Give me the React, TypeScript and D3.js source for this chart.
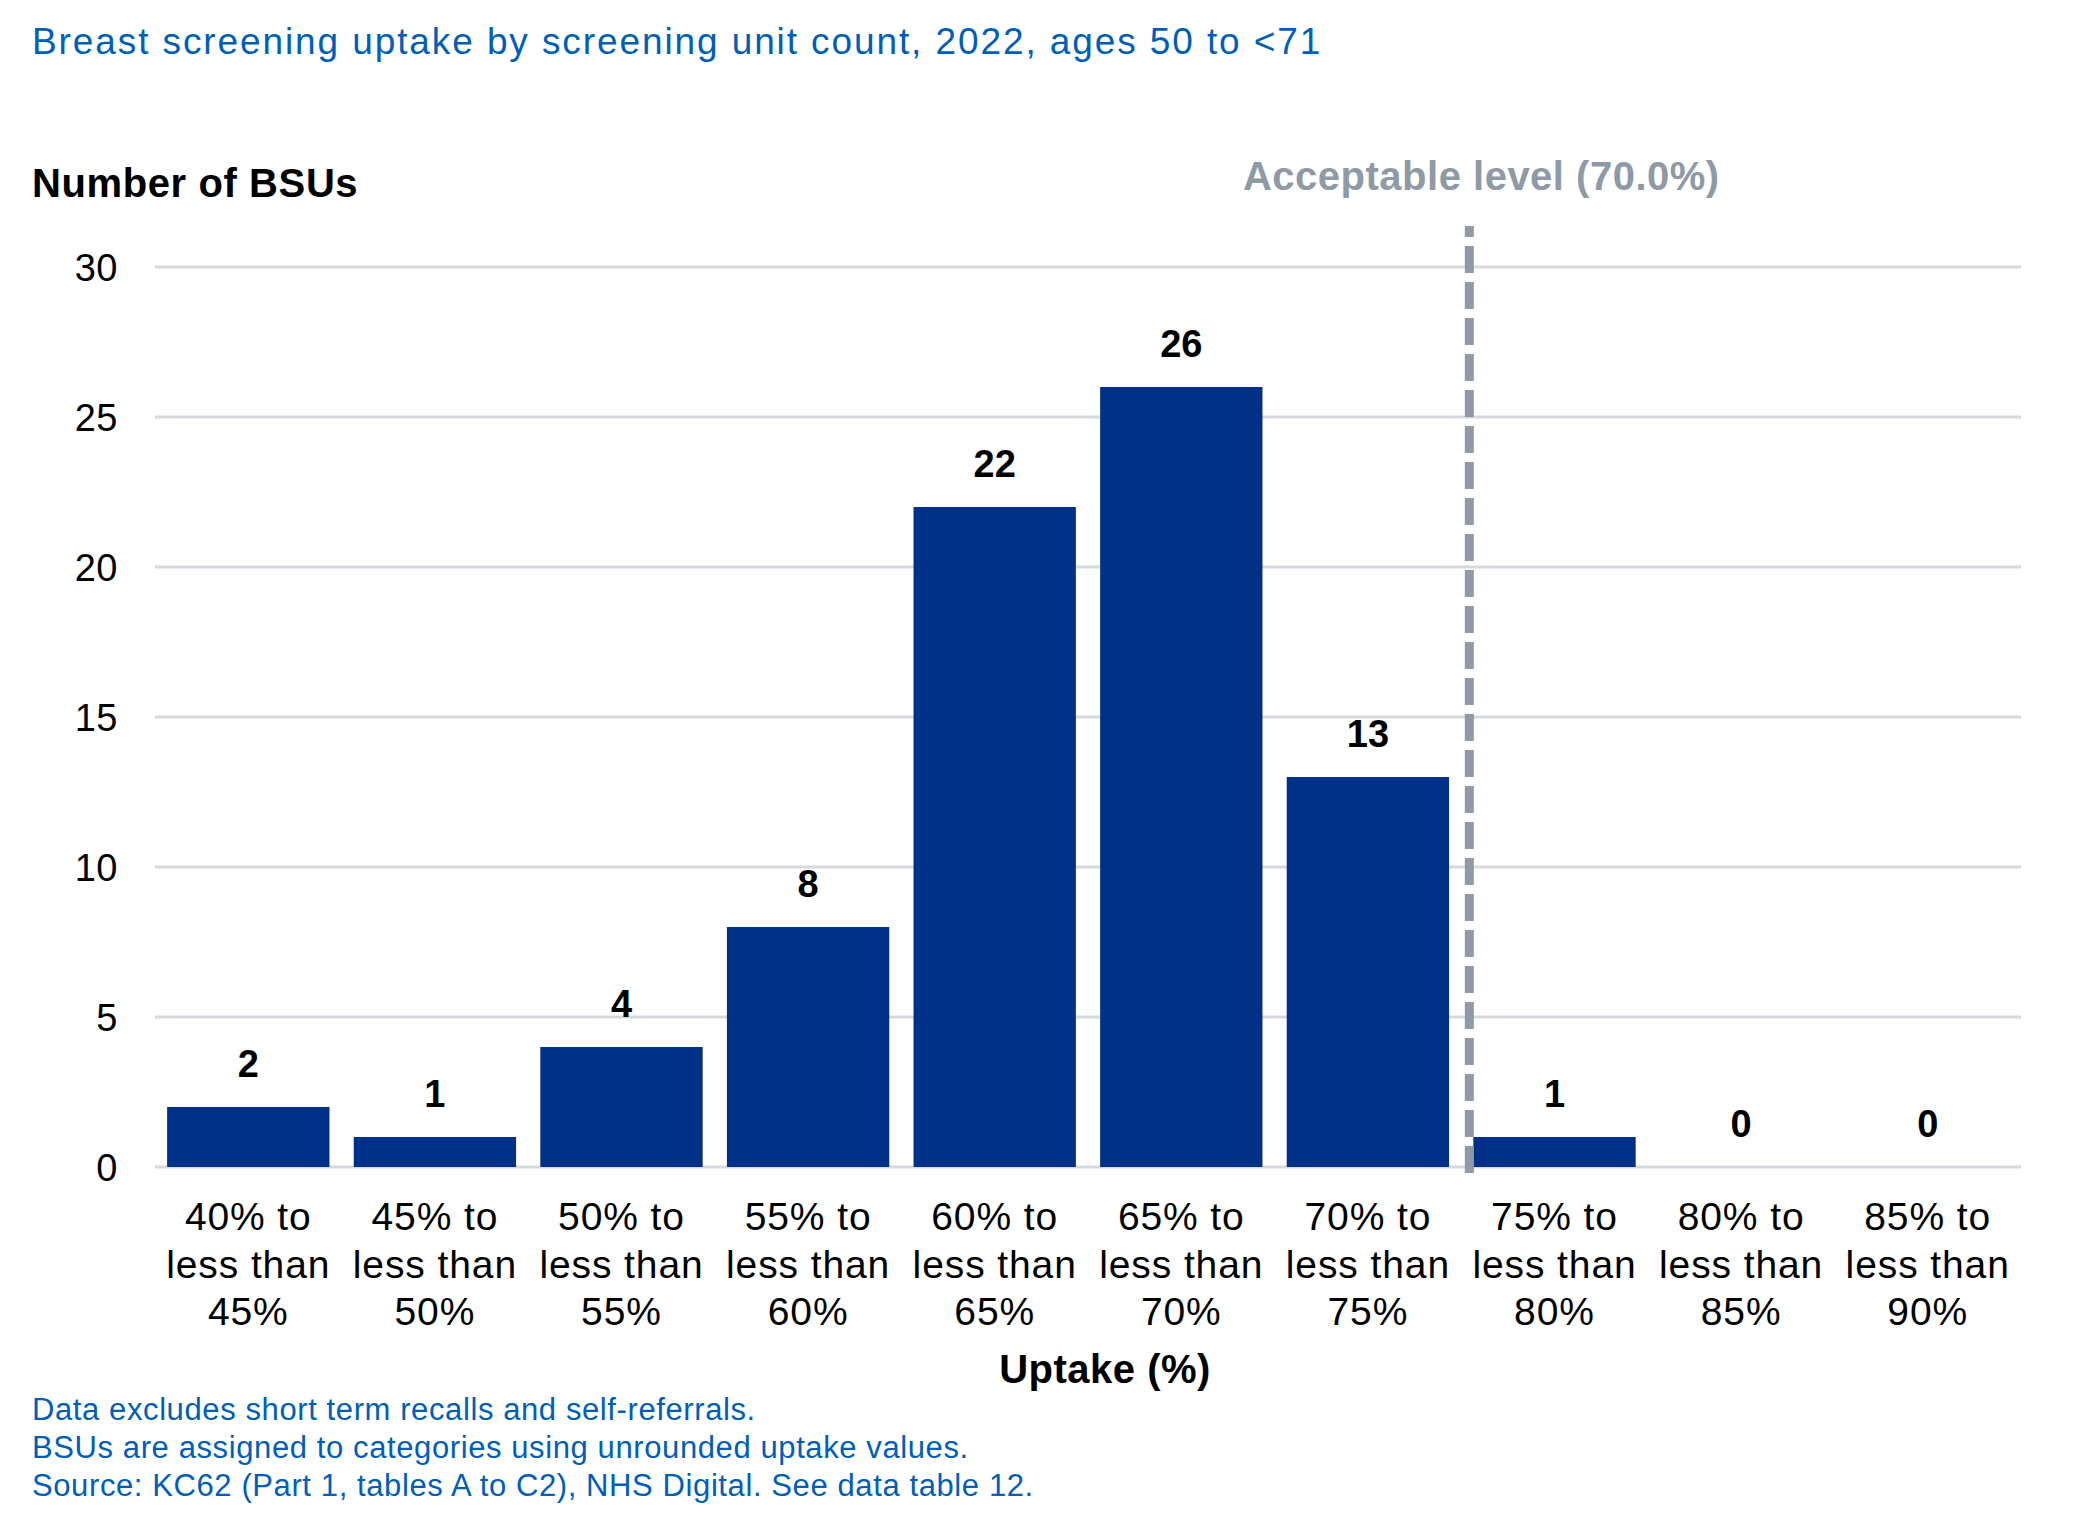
import React from "react"
import * as d3 from "d3"

// chart data
const categories = [
  ["40% to", "less than", "45%"],
  ["45% to", "less than", "50%"],
  ["50% to", "less than", "55%"],
  ["55% to", "less than", "60%"],
  ["60% to", "less than", "65%"],
  ["65% to", "less than", "70%"],
  ["70% to", "less than", "75%"],
  ["75% to", "less than", "80%"],
  ["80% to", "less than", "85%"],
  ["85% to", "less than", "90%"],
]
const counts = [2, 1, 4, 8, 22, 26, 13, 1, 0, 0]
const yTicks = [0, 5, 10, 15, 20, 25, 30]
const thresholdCategory = 7 // line drawn at the start of this bin
const thresholdLabel = "Acceptable level (70.0%)"

const title = "Breast screening uptake by screening unit count, 2022, ages 50 to <71"
const yTitle = "Number of BSUs"
const xTitle = "Uptake (%)"
const notes = [
  "Data excludes short term recalls and self-referrals.",
  "BSUs are assigned to categories using unrounded uptake values.",
  "Source: KC62 (Part 1, tables A to C2), NHS Digital. See data table 12.",
]

const W = 2082
const H = 1524
const FONT = "'Liberation Sans', Arial, sans-serif"
const BLUE_TEXT = "#005EB8"
const BAR = "#003087"
const GRID = "#D5D9DE"
const REF = "#8E9AA5"

export default function App() {
  const margin = { top: 267, left: 155, right: 61, bottom: 357 }
  const plotW = W - margin.left - margin.right
  const plotH = H - margin.top - margin.bottom

  const keys = categories.map((c) => c.join(" "))
  const x = d3.scaleBand<string>()
    .domain(keys)
    .range([0, plotW])
    .paddingInner(0.13)
    .paddingOuter(0.065)

  const y = d3.scaleLinear().domain([0, 30]).range([plotH, 0])

  const refX = (x(keys[thresholdCategory]) ?? 0) - 4

  return (
    <svg
      width={W}
      height={H}
      viewBox={`0 0 ${W} ${H}`}
      style={{ position: "absolute", left: 0, top: 0, background: "#fff" }}
      fontFamily={FONT}
    >
      <rect width={W} height={H} fill="#fff" />
      <text x={32} y={54} fontSize={37} letterSpacing={1.9} fill={BLUE_TEXT}>{title}</text>
      <text x={32} y={197} fontSize={40} letterSpacing={0.6} fontWeight="bold" fill="#000">{yTitle}</text>

      <g transform={`translate(${margin.left},${margin.top})`}>
        {/* gridlines + y ticks */}
        {yTicks.map((t) => (
          <g key={t}>
            <line x1={0} x2={plotW} y1={y(t)} y2={y(t)} stroke={GRID} strokeWidth={3} />
            <text x={-37} y={y(t)} dy="0.36em" textAnchor="end" fontSize={38} letterSpacing={0.5} fill="#000">{t}</text>
          </g>
        ))}

        {/* bars */}
        {counts.map((v, i) => (
          <g key={keys[i]}>
            <rect
              x={x(keys[i])}
              y={y(v)}
              width={x.bandwidth()}
              height={plotH - y(v)}
              fill={BAR}
            />
            <text
              x={(x(keys[i]) ?? 0) + x.bandwidth() / 2}
              y={y(v) - 30}
              textAnchor="middle"
              fontSize={38}
              fontWeight="bold"
              fill="#000"
            >{v}</text>
          </g>
        ))}

        {/* acceptable level reference line */}
        <line
          x1={refX}
          x2={refX}
          y1={plotH + 6}
          y2={y(30) - 41}
          stroke={REF}
          strokeWidth={9}
          strokeDasharray="27 9"
        />
        <text
          x={refX + 12}
          y={190 - margin.top}
          textAnchor="middle"
          fontSize={40}
          letterSpacing={0.5}
          fontWeight="bold"
          fill={REF}
        >{thresholdLabel}</text>

        {/* category labels */}
        {categories.map((lines, i) => (
          <text
            key={keys[i]}
            x={(x(keys[i]) ?? 0) + x.bandwidth() / 2}
            y={plotH + 63}
            textAnchor="middle"
            fontSize={39}
            letterSpacing={0.9}
            fill="#000"
          >
            {lines.map((l, j) => (
              <tspan key={j} x={(x(keys[i]) ?? 0) + x.bandwidth() / 2} dy={j === 0 ? 0 : 47.5}>{l}</tspan>
            ))}
          </text>
        ))}

        <text x={plotW / 2 + 17} y={plotH + 216} textAnchor="middle" fontSize={40} letterSpacing={0.5} fontWeight="bold" fill="#000">{xTitle}</text>
      </g>

      {notes.map((n, i) => (
        <text key={i} x={32} y={1420 + i * 38} fontSize={31} letterSpacing={0.6} fill={BLUE_TEXT}>{n}</text>
      ))}
    </svg>
  )
}
